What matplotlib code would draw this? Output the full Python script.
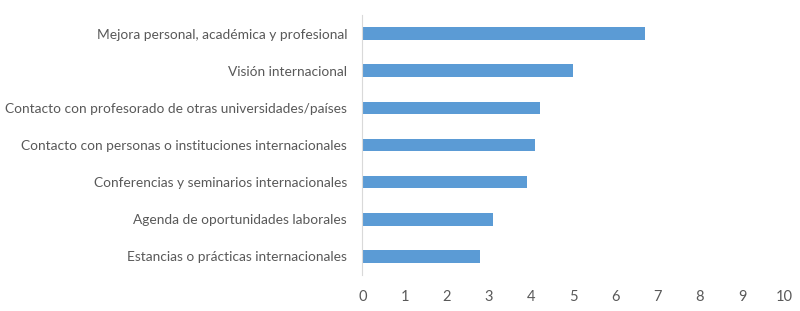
import matplotlib
matplotlib.use("Agg")
import matplotlib.pyplot as plt

categories = [
    "Estancias o prácticas internacionales",
    "Agenda de oportunidades laborales",
    "Conferencias y seminarios internacionales",
    "Contacto con personas o instituciones internacionales",
    "Contacto con profesorado de otras universidades/países",
    "Visión internacional",
    "Mejora personal, académica y profesional",
]
values = [2.8, 3.1, 3.9, 4.1, 4.2, 5.0, 6.7]
xticks = list(range(0, 11))

plt.rcParams['font.family'] = ['Lato', 'DejaVu Sans']
txt = '#595959'

fig = plt.figure(figsize=(8, 3.11), dpi=100)
ax = fig.add_axes([0.4529, 0.1158, 0.5275, 0.836])
ax.barh(range(len(categories)), values, height=0.34, color='#5B9BD5')

ax.set_xlim(0, 10)
ax.set_ylim(-0.5, 6.5)
ax.set_yticks(range(len(categories)))
ax.set_yticklabels(categories)
ax.set_xticks(xticks)
ax.tick_params(axis='both', length=0, labelsize=9.9, colors=txt)
ax.tick_params(axis='y', pad=11)
ax.tick_params(axis='x', labelsize=10.5, pad=11)

for s in ['top', 'right', 'bottom']:
    ax.spines[s].set_visible(False)
ax.spines['left'].set_color('#D9D9D9')

fig.savefig('out.png', dpi=100)
